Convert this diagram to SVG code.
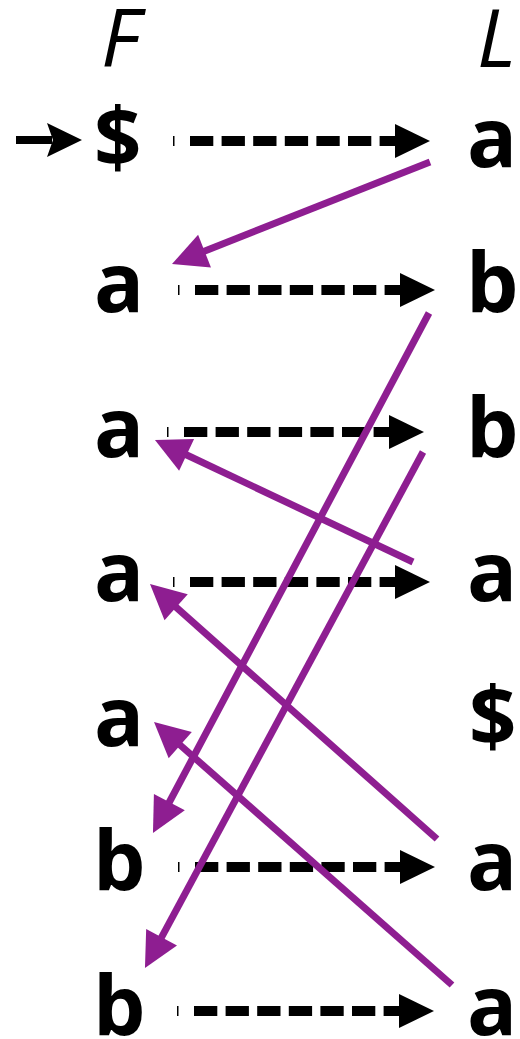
<svg xmlns="http://www.w3.org/2000/svg" width="520" height="1039" viewBox="0 0 520 1039">
<style>
.sym{font-family:"Open Sans","Liberation Sans",sans-serif;font-weight:bold;font-size:83px;fill:#000}
.hdr{font-family:"Open Sans","Liberation Sans",sans-serif;font-style:italic;font-size:81px;fill:#000}
.dash{stroke:#000;stroke-width:10;stroke-dasharray:23.3 8.3;fill:none}
.lf{stroke:#8e1e91;stroke-width:7;fill:none;marker-end:url(#ph)}
</style>
<defs>
<marker id="ph" markerUnits="userSpaceOnUse" markerWidth="36" markerHeight="36" refX="1" refY="17.5" orient="auto" viewBox="0 0 36 36" overflow="visible">
<path d="M0,0 L35,17.5 L0,35 Z" fill="#8e1e91"/>
</marker>
<g id="da">
<rect x="0" y="-5" width="1.5" height="10" fill="#000"/>
<line class="dash" x1="17" y1="0" x2="223" y2="0"/>
<path d="M222,-17 L257,0 L222,17 Z" fill="#000"/>
</g>
</defs>
<rect width="520" height="1039" fill="#fff"/>
<g id="header-F"><text class="hdr" x="101" y="67">F</text></g>
<g id="header-L"><text class="hdr" x="477" y="67">L</text></g>
<g id="entry-arrow">
<line x1="16" y1="140" x2="52" y2="140" stroke="#000" stroke-width="8"/>
<path d="M47,123 L82,140 L47,157 L53,140 Z" fill="#000"/>
</g>
<g id="F-column">
<g id="F0"><text class="sym" x="94" y="167">$</text></g>
<g id="F1"><text class="sym" x="94" y="312">a</text></g>
<g id="F2"><text class="sym" x="94" y="457">a</text></g>
<g id="F3"><text class="sym" x="94" y="601">a</text></g>
<g id="F4"><text class="sym" x="94" y="746">a</text></g>
<g id="F5"><text class="sym" x="93" y="890">b</text></g>
<g id="F6"><text class="sym" x="93" y="1035">b</text></g>
</g>
<g id="L-column">
<g id="L0"><text class="sym" x="467" y="167">a</text></g>
<g id="L1"><text class="sym" x="466" y="312">b</text></g>
<g id="L2"><text class="sym" x="466" y="457">b</text></g>
<g id="L3"><text class="sym" x="467" y="601">a</text></g>
<g id="L4"><text class="sym" x="469" y="746">$</text></g>
<g id="L5"><text class="sym" x="467" y="890">a</text></g>
<g id="L6"><text class="sym" x="467" y="1035">a</text></g>
</g>
<g id="connectors">
<g id="row-arrows">
<use href="#da" x="173" y="141"/>
<use href="#da" x="178" y="290"/>
<use href="#da" x="167" y="432"/>
<use href="#da" x="173" y="582"/>
<use href="#da" x="178" y="867"/>
<use href="#da" x="177" y="1011"/>
</g>
<g id="lf-arrows">
<line class="lf" x1="430" y1="162" x2="203.6" y2="251.5"/>
<line class="lf" x1="429" y1="313" x2="168.9" y2="803"/>
<line class="lf" x1="423" y1="452" x2="161.1" y2="938.1"/>
<line class="lf" x1="413" y1="562" x2="185.7" y2="454.5"/>
<line class="lf" x1="437" y1="839" x2="175.4" y2="606.6"/>
<line class="lf" x1="452" y1="985" x2="179.5" y2="744.5"/>
</g>
</g>
</svg>
